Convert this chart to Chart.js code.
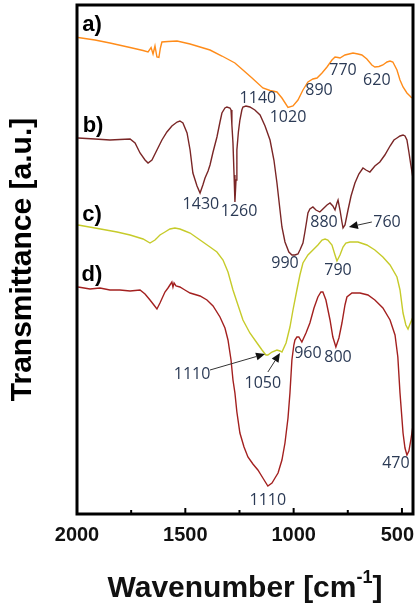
<!DOCTYPE html>
<html><head><meta charset="utf-8">
<script src="https://cdn.jsdelivr.net/npm/chart.js@4.4.1/dist/chart.umd.min.js"></script>
<style>html,body{margin:0;padding:0;background:#fff;overflow:hidden}</style>
</head><body>
<canvas id="c" width="417" height="609"></canvas>
<script>
// ---- data (wavenumber in cm-1, transmittance in a.u.) ----
const waveA = [1995,1917,1848,1755,1695,1672,1658,1649,1640,1631,1622,1615,1608,1580,1538,1478,1432,1386,1331,1271,1234,1192,1142,1109,1077,1054,1026,1003,980,957,934,911,892,869,846,823,809,795,786,763,726,703,685,662,639,625,606,588,569,555,542,523,509,495,477,463,454];
const transA = [95.3,94.8,94.2,93.3,92.7,92.4,93.3,92.0,93.6,91.4,91.3,93.2,94.4,94.5,94.6,94.0,93.4,92.8,91.6,90.2,88.8,87.2,85.2,84.7,84.4,83.2,81.3,81.6,82.8,84.8,86.4,87.0,87.2,88.2,89.4,90.8,91.4,91.3,91.2,91.8,92.2,92.0,91.8,91.0,89.8,89.4,89.5,89.8,90.4,90.6,90.4,88.8,86.8,85.4,84.2,83.6,83.2];

const waveB = [1995,1917,1848,1802,1755,1732,1709,1686,1672,1654,1631,1608,1585,1562,1538,1525,1511,1492,1478,1465,1446,1432,1419,1409,1395,1386,1372,1354,1340,1331,1317,1308,1294,1289,1285,1280,1275,1271,1266,1262,1255,1248,1239,1234,1220,1202,1179,1155,1132,1109,1091,1077,1063,1054,1040,1022,1008,994,980,971,957,948,939,934,925,911,897,879,865,846,832,819,809,800,795,786,777,772,763,749,735,717,699,680,666,648,625,602,579,555,537,523,509,495,486,477,468,459,450];
const transB = [75.2,75.0,74.8,74.9,75.0,74.2,72.2,70.8,70.2,70.8,72.8,74.8,76.4,77.6,78.4,78.6,78.2,76.2,72.8,68.2,65.6,64.2,65.8,67.2,68.6,69.8,72.4,75.4,78.4,80.2,81.2,81.4,81.2,80.8,77.8,74.2,67.8,62.4,66.8,72.8,76.4,78.8,80.8,81.4,81.6,81.4,80.8,79.8,77.6,74.8,70.8,66.2,60.8,57.4,54.4,52.4,51.8,51.8,52.0,52.8,54.2,56.4,58.8,60.2,61.0,61.4,60.8,60.4,61.0,61.8,62.2,61.6,60.8,62.2,62.8,60.8,58.4,57.2,57.8,60.8,63.6,66.2,68.0,69.2,68.8,68.4,69.6,70.4,71.8,73.6,74.8,75.2,75.6,75.8,75.6,74.8,72.4,69.8,67.4];

const waveC = [1995,1917,1815,1755,1695,1663,1640,1617,1594,1571,1548,1525,1502,1478,1432,1386,1354,1326,1303,1280,1257,1234,1202,1169,1146,1128,1119,1100,1077,1063,1054,1035,1017,1003,985,971,957,934,911,888,869,855,842,823,809,800,786,772,759,740,703,662,625,588,555,523,509,495,482,472,463,451];
const transC = [57.8,57.2,56.4,55.8,55.0,54.2,54.8,55.8,56.4,57.0,57.2,57.0,56.6,56.2,54.8,53.4,52.4,50.8,48.4,44.8,41.8,38.8,36.2,34.2,32.8,31.8,31.8,32.4,32.8,32.6,32.4,34.2,37.4,40.8,44.8,47.8,50.2,51.8,52.8,53.8,54.8,55.0,54.8,53.8,51.8,50.6,51.8,53.4,54.2,54.4,54.4,53.8,52.8,51.4,49.8,47.4,44.8,40.2,37.8,37.0,38.0,39.2];

const waveD = [1995,1940,1894,1848,1802,1755,1709,1686,1663,1645,1631,1617,1594,1580,1571,1562,1557,1552,1543,1525,1502,1478,1432,1400,1372,1340,1317,1303,1289,1280,1271,1262,1248,1229,1211,1188,1165,1142,1119,1100,1086,1072,1054,1040,1026,1017,1008,999,994,985,976,962,943,925,906,888,874,865,851,832,819,805,791,777,763,754,731,694,657,625,588,555,532,519,509,495,486,477,468,459,450];
const transD = [45.4,45.0,45.2,44.8,44.8,44.6,44.8,44.0,42.8,41.8,41.0,42.2,44.4,45.2,45.8,46.4,45.4,46.2,45.6,45.4,44.8,44.2,43.6,42.8,41.6,39.4,37.2,34.8,30.8,26.8,24.2,20.4,16.2,13.4,11.4,10.0,8.8,7.2,5.6,6.2,7.2,8.2,10.8,14.2,19.2,24.2,30.8,33.8,34.8,35.4,35.4,34.4,36.2,38.2,41.2,43.4,44.4,44.4,42.8,38.8,35.4,33.4,35.2,38.2,41.8,43.4,44.2,44.2,43.8,42.8,41.2,38.8,35.8,31.4,24.2,16.2,13.2,11.8,12.6,14.8,17.4];

const seriesNames = ['a)','b)','c)','d)'];
const seriesLabelWn = [1931,1926,1931,1931];
const seriesLabelVal = [97.8,77.6,59.8,47.8];

const majorTicks = [2000,1500,1000,500];
const minorTicks = [1750,1250,750];

const annoText = ['1140','1020','890','770','620','1430','1260','880','760','990','790','960','800','1110','1050','1110','470'];
const annoWn   = [1165,1026,883,772,616,1428,1252,860,569,1040,795,934,795,1469,1142,1119,528];
const annoVal  = [83.2,79.4,84.8,88.8,86.8,62.0,60.6,58.4,58.4,50.2,48.8,32.2,31.4,28.0,26.2,2.8,10.2];

const arrowFromWn  = [639,1386,1119];
const arrowFromVal = [58.4,28.8,28.4];
const arrowToWn    = [745,1132,1063];
const arrowToVal   = [57.4,32.0,32.2];

// ---- build ----
const pts = (w, t) => w.map((v, i) => ({x: v, y: t[i]}));
const colors = ['#ff8c1a', '#7a2626', '#c6cb2a', '#a3201f'];
const series = [[waveA, transA], [waveB, transB], [waveC, transC], [waveD, transD]];

const decor = {
  id: 'decor',
  afterDatasetsDraw(chart) {
    const {ctx, chartArea: a, scales: {x, y}, width} = chart;
    ctx.save();
    // peak labels
    ctx.font = '16px "Open Sans"';
    ctx.fillStyle = '#2b3a55';
    ctx.textAlign = 'center';
    ctx.textBaseline = 'middle';
    annoText.forEach((t, i) => ctx.fillText(t, x.getPixelForValue(annoWn[i]), y.getPixelForValue(annoVal[i])));
    // series labels
    ctx.font = 'bold 22px "Liberation Sans"';
    ctx.fillStyle = '#000';
    seriesNames.forEach((t, i) => ctx.fillText(t, x.getPixelForValue(seriesLabelWn[i]), y.getPixelForValue(seriesLabelVal[i])));
    // arrows
    ctx.strokeStyle = '#333';
    ctx.fillStyle = '#111';
    ctx.lineWidth = 1;
    arrowFromWn.forEach((w, i) => {
      const x0 = x.getPixelForValue(w), y0 = y.getPixelForValue(arrowFromVal[i]);
      const x1 = x.getPixelForValue(arrowToWn[i]), y1 = y.getPixelForValue(arrowToVal[i]);
      const ang = Math.atan2(y1 - y0, x1 - x0);
      const hl = 9, hw = 4;
      const bx = x1 - hl * Math.cos(ang), by = y1 - hl * Math.sin(ang);
      ctx.beginPath(); ctx.moveTo(x0, y0); ctx.lineTo(bx, by); ctx.stroke();
      ctx.beginPath();
      ctx.moveTo(x1, y1);
      ctx.lineTo(bx + hw * Math.sin(ang), by - hw * Math.cos(ang));
      ctx.lineTo(bx - hw * Math.sin(ang), by + hw * Math.cos(ang));
      ctx.closePath(); ctx.fill();
    });
    // frame
    ctx.strokeStyle = '#000';
    ctx.lineWidth = 3;
    ctx.strokeRect(a.left, a.top, a.right - a.left, a.bottom - a.top);
    // inward ticks
    ctx.lineWidth = 2;
    const tick = (v, len) => {
      const px = x.getPixelForValue(v);
      ctx.beginPath(); ctx.moveTo(px, a.bottom); ctx.lineTo(px, a.bottom - len); ctx.stroke();
    };
    majorTicks.forEach(v => tick(v, 6));
    minorTicks.forEach(v => tick(v, 4));
    // tick labels (kept inside the canvas)
    ctx.font = 'bold 20px "Liberation Sans"';
    ctx.textAlign = 'center';
    ctx.textBaseline = 'middle';
    majorTicks.forEach(v => {
      const t = String(v);
      const w = ctx.measureText(t).width;
      let px = x.getPixelForValue(v);
      px = Math.min(px, width - 3 - w / 2);
      ctx.fillText(t, px, a.bottom + 21);
    });
    // x title with superscript
    const cx = (a.left + a.right) / 2;
    const p1 = 'Wavenumber [cm', p2 = '-1', p3 = ']';
    ctx.textBaseline = 'alphabetic';
    ctx.textAlign = 'left';
    ctx.font = 'bold 30px "Liberation Sans"';
    const w1 = ctx.measureText(p1).width, w3 = ctx.measureText(p3).width;
    ctx.font = 'bold 18px "Liberation Sans"';
    const w2 = ctx.measureText(p2).width;
    const sx = cx - (w1 + w2 + w3) / 2;
    const base = a.bottom + 83;
    ctx.font = 'bold 30px "Liberation Sans"';
    ctx.fillText(p1, sx, base);
    ctx.font = 'bold 18px "Liberation Sans"';
    ctx.fillText(p2, sx + w1, base - 14);
    ctx.font = 'bold 30px "Liberation Sans"';
    ctx.fillText(p3, sx + w1 + w2, base);
    ctx.restore();
  }
};

new Chart(document.getElementById('c'), {
  type: 'scatter',
  data: {
    datasets: series.map((s, i) => ({
      data: pts(s[0], s[1]),
      showLine: true,
      borderColor: colors[i],
      borderWidth: 1.4,
      pointRadius: 0,
      tension: 0,
      fill: false
    }))
  },
  options: {
    responsive: false,
    animation: false,
    devicePixelRatio: 1,
    layout: {padding: {left: 0, right: 4, top: 5, bottom: 0}},
    plugins: {legend: {display: false}, tooltip: {enabled: false}},
    scales: {
      x: {
        type: 'linear',
        reverse: true,
        min: 449,
        max: 2000,
        afterBuildTicks: s => { s.ticks = majorTicks.concat(minorTicks).map(v => ({value: v})); },
        afterFit: s => { s.height = 95; },
        grid: {display: false},
        border: {display: false},
        ticks: {display: false}
      },
      y: {
        min: 0,
        max: 101.8,
        afterFit: s => { s.width = 77; },
        grid: {display: false},
        border: {display: false},
        ticks: {display: false},
        title: {
          display: true,
          text: 'Transmittance [a.u.]',
          color: '#000',
          padding: {top: 5, bottom: 0},
          font: {family: 'Liberation Sans', size: 30, weight: 'bold'}
        }
      }
    }
  },
  plugins: [decor]
});
</script>
</body></html>
